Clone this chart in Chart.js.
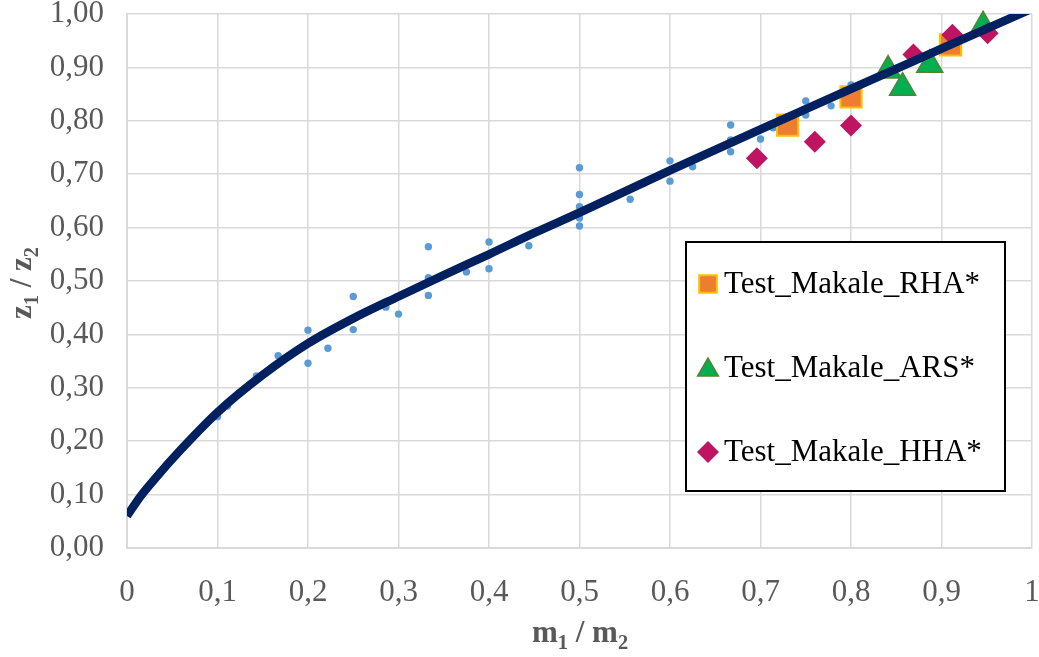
<!DOCTYPE html>
<html>
<head>
<meta charset="utf-8">
<script src="https://cdn.jsdelivr.net/npm/chart.js@4.4.0/dist/chart.umd.min.js"></script>
<style>
  body { margin: 0; background: #fff; }
  #wrap { width: 1039px; height: 657px; }
</style>
</head>
<body>
<div id="wrap"><canvas id="chartMakale" width="1039" height="657"></canvas></div>
<script>
// Données
const fitX = [0, 0.015, 0.03, 0.06, 0.1, 0.15, 0.2, 0.25, 0.3, 0.35, 0.4, 0.45, 0.5, 0.6, 0.7, 0.8, 0.9, 1.0];
const fitY = [0.06, 0.097, 0.128, 0.185, 0.254, 0.324, 0.383, 0.430, 0.471, 0.511, 0.550, 0.590, 0.628, 0.707, 0.784, 0.860, 0.935, 1.01];

const litX = [0.1, 0.111, 0.143, 0.167, 0.2, 0.2, 0.222, 0.25, 0.25, 0.286, 0.3, 0.333, 0.333, 0.333,
  0.375, 0.4, 0.4, 0.429, 0.444, 0.5, 0.5, 0.5, 0.5, 0.5, 0.556, 0.571, 0.6, 0.6, 0.625,
  0.667, 0.667, 0.667, 0.7, 0.714, 0.75, 0.75, 0.778, 0.8, 0.8];
const litY = [0.246, 0.266, 0.322, 0.360, 0.408, 0.346, 0.374, 0.471, 0.409, 0.451, 0.438, 0.564, 0.506, 0.473,
  0.517, 0.573, 0.523, 0.572, 0.566, 0.712, 0.662, 0.639, 0.618, 0.603, 0.653, 0.683, 0.725, 0.687, 0.714,
  0.792, 0.764, 0.742, 0.766, 0.787, 0.837, 0.811, 0.828, 0.867, 0.850];

const rhaX = [0.730, 0.800, 0.910];
const rhaY = [0.792, 0.845, 0.942];
const arsX = [0.841, 0.857, 0.887, 0.946];
const arsY = [0.894, 0.862, 0.905, 0.977];
const hhaX = [0.696, 0.760, 0.800, 0.869, 0.912, 0.951];
const hhaY = [0.730, 0.761, 0.791, 0.924, 0.961, 0.964];

const xTicks = [0, 0.1, 0.2, 0.3, 0.4, 0.5, 0.6, 0.7, 0.8, 0.9, 1];

const toPts = (xs, ys) => xs.map((x, i) => ({ x: x, y: ys[i] }));
const SERIF = "'Liberation Serif', 'Times New Roman', serif";
const GREY = "#595959";

// Titres d'axes avec indices
function drawSub(ctx, parts, size) {
  let w = 0;
  parts.forEach(p => {
    ctx.font = "bold " + (p[1] ? size * 0.66 : size) + "px " + SERIF;
    w += ctx.measureText(p[0]).width;
  });
  let x = -w / 2;
  parts.forEach(p => {
    ctx.font = "bold " + (p[1] ? size * 0.66 : size) + "px " + SERIF;
    ctx.fillText(p[0], x, p[1] ? size * 0.22 : 0);
    x += ctx.measureText(p[0]).width;
  });
}

const titlesPlugin = {
  id: "titles",
  afterDraw(chart) {
    const ctx = chart.ctx;
    ctx.save();
    ctx.fillStyle = GREY;
    ctx.textBaseline = "alphabetic";
    ctx.translate(580, 642);
    drawSub(ctx, [["m", 0], ["1", 1], [" / ", 0], ["m", 0], ["2", 1]], 31);
    ctx.restore();

    ctx.save();
    ctx.fillStyle = GREY;
    ctx.translate(31, 283);
    ctx.rotate(-Math.PI / 2);
    drawSub(ctx, [["z", 0], ["1", 1], [" / ", 0], ["z", 0], ["2", 1]], 31);
    ctx.restore();
  }
};

// Légende encadrée dans la zone du graphique
const legendPlugin = {
  id: "boxLegend",
  afterDatasetsDraw(chart) {
    const ctx = chart.ctx;
    ctx.save();
    ctx.fillStyle = "#fff";
    ctx.fillRect(686, 242, 319, 249);
    ctx.strokeStyle = "#000";
    ctx.lineWidth = 2;
    ctx.strokeRect(686, 242, 319, 249);
    const rows = [2, 3, 4];
    const ys = [284, 368, 452];
    rows.forEach((di, i) => {
      const ds = chart.data.datasets[di];
      ctx.fillStyle = ds.pointBackgroundColor;
      ctx.strokeStyle = ds.pointBorderColor;
      ctx.lineWidth = ds.pointBorderWidth;
      Chart.helpers.drawPoint(ctx, {
        pointStyle: ds.pointStyle,
        radius: ds.pointStyle === "rect" ? 12.5 : (ds.pointStyle === "triangle" ? 12 : 11),
        borderWidth: ds.pointBorderWidth,
        rotation: 0
      }, 708, ys[i] + (ds.pointStyle === "triangle" ? 2 : 0));
      ctx.fillStyle = "#000";
      ctx.font = "31px " + SERIF;
      ctx.textBaseline = "middle";
      ctx.fillText(ds.label, 724, ys[i] + 1);
    });
    ctx.restore();
  }
};

const ctx = document.getElementById("chartMakale").getContext("2d");
const chart = new Chart(ctx, {
  type: "scatter",
  data: {
    datasets: [
      {
        label: "Eğri",
        data: toPts(fitX, fitY),
        showLine: true,
        borderColor: "#002060",
        borderWidth: 8.5,
        pointRadius: 0,
        cubicInterpolationMode: "monotone",
        clip: 0,
        order: 0
      },
      {
        label: "Literatür",
        data: toPts(litX, litY),
        pointStyle: "circle",
        pointRadius: 3.7,
        pointBorderWidth: 0,
        pointBackgroundColor: "#5B9BD5",
        pointBorderColor: "#5B9BD5",
        clip: false,
        order: 5
      },
      {
        label: "Test_Makale_RHA*",
        data: toPts(rhaX, rhaY),
        pointStyle: "rect",
        pointRadius: 15,
        pointBorderWidth: 2,
        pointBackgroundColor: "#ED7D31",
        pointBorderColor: "#FFC000",
        clip: false,
        order: 4
      },
      {
        label: "Test_Makale_ARS*",
        data: toPts(arsX, arsY),
        pointStyle: "triangle",
        pointRadius: 15,
        pointBorderWidth: 1.5,
        pointBackgroundColor: "#00B050",
        pointBorderColor: "#548235",
        clip: false,
        order: 3
      },
      {
        label: "Test_Makale_HHA*",
        data: toPts(hhaX, hhaY),
        pointStyle: "rectRot",
        pointRadius: 11,
        pointBorderWidth: 0,
        pointBackgroundColor: "#BE1461",
        pointBorderColor: "#BE1461",
        clip: false,
        order: 2
      }
    ]
  },
  options: {
    responsive: false,
    animation: false,
    devicePixelRatio: 1,
    layout: { autoPadding: false, padding: { top: 14, right: 7, left: 0, bottom: 0 } },
    plugins: {
      legend: { display: false },
      tooltip: { enabled: false }
    },
    scales: {
      x: {
        type: "linear",
        min: 0,
        max: 1,
        afterBuildTicks: s => { s.ticks = xTicks.map(v => ({ value: v })); },
        afterFit: s => { s.height = 109; s.paddingLeft = 0; s.paddingRight = 0; },
        grid: { color: "#d9d9d9", lineWidth: 1.5, drawTicks: false },
        border: { color: "#d9d9d9", width: 2 },
        ticks: {
          padding: 26,
          autoSkip: false,
          maxRotation: 0,
          color: GREY,
          font: { family: SERIF, size: 31 },
          callback: v => (v === 0 || v === 1) ? String(v) : v.toFixed(1).replace(".", ",")
        }
      },
      y: {
        type: "linear",
        min: 0,
        max: 1,
        afterFit: s => { s.width = 127; s.paddingTop = 0; s.paddingBottom = 0; },
        grid: { color: "#d9d9d9", lineWidth: 1.5, drawTicks: false },
        border: { color: "#d9d9d9", width: 2 },
        ticks: {
          stepSize: 0.1,
          padding: 23,
          color: GREY,
          font: { family: SERIF, size: 31 },
          callback: v => v.toFixed(2).replace(".", ",")
        }
      }
    }
  },
  plugins: [legendPlugin, titlesPlugin]
});
</script>
</body>
</html>
